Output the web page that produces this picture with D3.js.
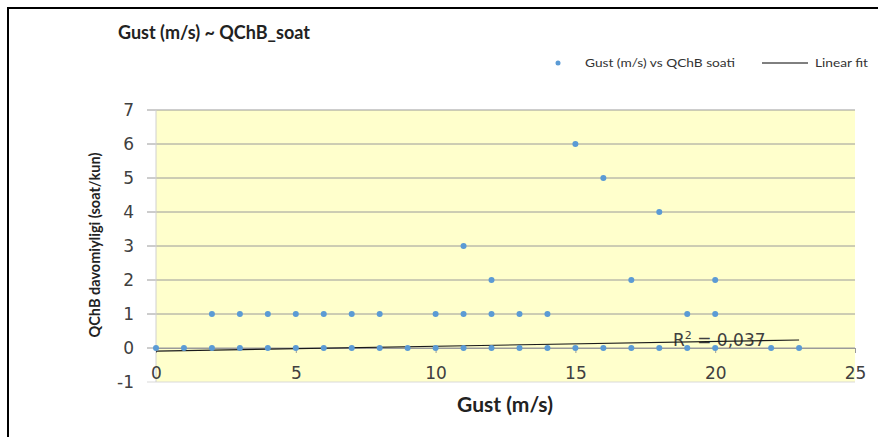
<!DOCTYPE html>
<html>
<head>
<meta charset="utf-8">
<script src="https://cdn.jsdelivr.net/npm/d3@7"></script>
<style>
  body { margin: 0; background: #fff; }
  svg { display: block; }
</style>
</head>
<body>
<script>
// gust values (m/s) and QChB duration (hours/day)
var gustVals = [0,1,2,3,4,5,6,7,8,9,10,11,12,13,14,15,16,17,18,19,20,22,23,
                2,3,4,5,6,7,8,10,11,12,13,14,19,20,
                12,17,20,
                11,18,16,15];
var qchbVals = [0,0,0,0,0,0,0,0,0,0,0,0,0,0,0,0,0,0,0,0,0,0,0,
                1,1,1,1,1,1,1,1,1,1,1,1,1,1,
                2,2,2,
                3,4,5,6];
// linear fit as drawn in the chart (end points)
var fitX = [0, 23];
var fitY = [-0.09, 0.235];
var xTicks = [0, 5, 10, 15, 20, 25];
var yTicks = [-1, 0, 1, 2, 3, 4, 5, 6, 7];

var width = 878, height = 437;
var svg = d3.select("body").append("svg")
    .attr("width", width)
    .attr("height", height);

// outer frame
svg.append("rect")
    .attr("x", 8).attr("y", 8)
    .attr("width", 880).attr("height", 440)
    .attr("fill", "none")
    .attr("stroke", "#000")
    .attr("stroke-width", 2);

var x = d3.scaleLinear().domain([0, 25]).range([156, 855]);
var y = d3.scaleLinear().domain([-1, 7]).range([382, 110]);

// plot area
svg.append("rect")
    .attr("x", x(0)).attr("y", y(7))
    .attr("width", x(25) - x(0)).attr("height", y(-1) - y(7))
    .attr("fill", "#ffffcc");

// horizontal gridlines + y ticks
svg.append("g")
    .selectAll("line")
    .data(yTicks)
    .join("line")
    .attr("x1", x(0) - 9).attr("x2", x(25))
    .attr("y1", d => y(d)).attr("y2", d => y(d))
    .attr("stroke", d => d === -1 ? "#d9d9d9" : "#9a9a9a")
    .attr("stroke-width", 1);

// vertical axis line
svg.append("line")
    .attr("x1", x(0)).attr("x2", x(0))
    .attr("y1", y(7)).attr("y2", y(-1))
    .attr("stroke", "#d0d0d0");

// x axis crosses at y = 0
var xAxis = svg.append("g")
    .attr("transform", `translate(0,${y(0)})`)
    .call(d3.axisBottom(x).tickValues(xTicks).tickSize(5).tickFormat(d3.format("d")));
xAxis.select(".domain").attr("stroke", "#9a9a9a");
xAxis.selectAll(".tick line").attr("stroke", "#9a9a9a");
xAxis.selectAll(".tick text")
    .attr("dy", "0.9em")
    .attr("y", 16)
    .attr("fill", "#404040")
    .style("font-family", "DejaVu Sans")
    .style("font-size", "17px");

// y tick labels
svg.append("g")
    .selectAll("text")
    .data(yTicks)
    .join("text")
    .attr("x", 134)
    .attr("y", d => y(d))
    .attr("dy", "0.35em")
    .attr("text-anchor", "end")
    .attr("fill", "#404040")
    .style("font-family", "DejaVu Sans")
    .style("font-size", "17px")
    .text(d => d);

// R² label (sits under the fit line, as in the original)
var r2 = svg.append("text")
    .attr("x", 673).attr("y", 346)
    .attr("fill", "#404040")
    .style("font-family", "DejaVu Sans")
    .style("font-size", "17px");
r2.append("tspan").text("R");
r2.append("tspan").attr("dy", -7).style("font-size", "11px").text("2");
r2.append("tspan").attr("dy", 7).text(" = 0,037");

// linear fit
svg.append("line")
    .attr("x1", x(fitX[0])).attr("y1", y(fitY[0]))
    .attr("x2", x(fitX[1])).attr("y2", y(fitY[1]))
    .attr("stroke", "#1a1a1a")
    .attr("stroke-width", 1.2);

// points
svg.append("g")
    .selectAll("circle")
    .data(d3.range(gustVals.length))
    .join("circle")
    .attr("cx", i => x(gustVals[i]))
    .attr("cy", i => y(qchbVals[i]))
    .attr("r", 3)
    .attr("fill", "#5b9bd5");

// title
svg.append("text")
    .attr("x", 118).attr("y", 39)
    .attr("fill", "#222")
    .style("font-family", "Lato")
    .style("font-weight", "bold")
    .style("font-size", "18px")
    .text("Gust (m/s) ~ QChB_soat");

// axis titles
svg.append("text")
    .attr("x", 505).attr("y", 412)
    .attr("text-anchor", "middle")
    .attr("fill", "#222")
    .style("font-family", "Lato")
    .style("font-weight", "bold")
    .style("font-size", "21px")
    .text("Gust (m/s)");

svg.append("text")
    .attr("transform", `translate(100,245) rotate(-90)`)
    .attr("text-anchor", "middle")
    .attr("fill", "#222")
    .style("font-family", "Lato")
    .style("font-weight", "bold")
    .style("font-size", "14.5px")
    .text("QChB davomiyligi (soat/kun)");

// legend
var legend = svg.append("g").style("font-family", "Lato").style("font-size", "11px").attr("fill", "#333");
legend.append("circle").attr("cx", 558).attr("cy", 63).attr("r", 2.5).attr("fill", "#5b9bd5");
legend.append("text").attr("x", 585).attr("y", 67)
    .attr("textLength", 150).attr("lengthAdjust", "spacingAndGlyphs")
    .text("Gust (m/s) vs QChB soati");
legend.append("line").attr("x1", 762).attr("x2", 808).attr("y1", 63).attr("y2", 63).attr("stroke", "#000");
legend.append("text").attr("x", 815).attr("y", 67)
    .attr("textLength", 53).attr("lengthAdjust", "spacingAndGlyphs")
    .text("Linear fit");
</script>
</body>
</html>
